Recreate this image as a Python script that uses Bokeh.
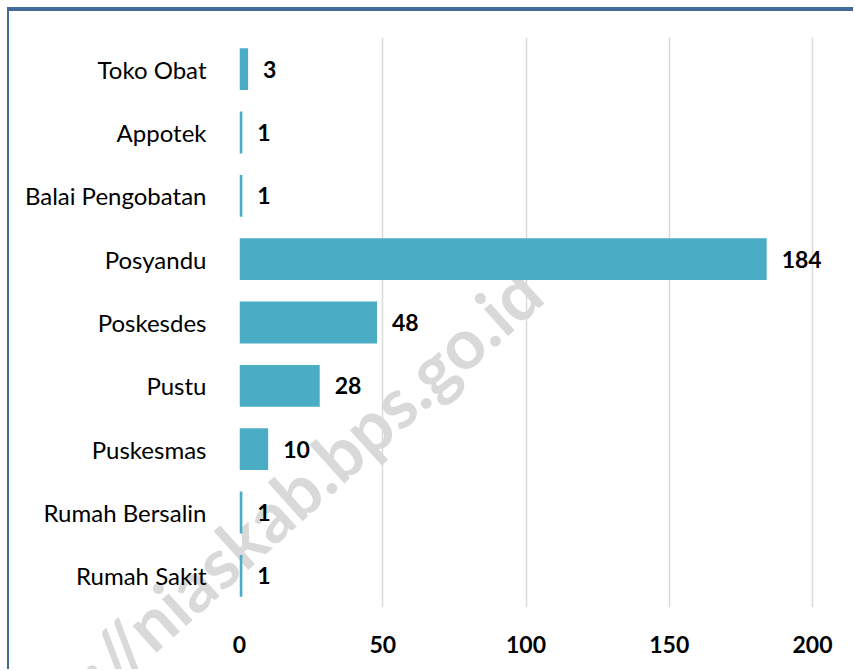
from bokeh.plotting import figure
from bokeh.models import ColumnDataSource, FactorRange, Range1d, FixedTicker
from bokeh.embed import file_html
from bokeh.resources import INLINE
from bokeh.core.properties import value

# Data
categories = ["Toko Obat", "Appotek", "Balai Pengobatan", "Posyandu", "Poskesdes",
              "Pustu", "Puskesmas", "Rumah Bersalin", "Rumah Sakit"]
counts = [3, 1, 1, 184, 48, 28, 10, 1, 1]
x_ticks = [0, 50, 100, 150, 200]
watermark = "https://niaskab.bps.go.id"

W, H = 846, 660
border = {"border-left": "2px solid #41699A", "border-top": "2px solid #41699A",
          "margin-left": "7px"}

# background figure carrying the watermark (frame covers whole canvas)
bg = figure(width=W, height=H, output_backend="svg", toolbar_location=None,
            x_range=Range1d(0, W), y_range=Range1d(0, H),
            x_axis_location=None, y_axis_location=None,
            min_border=0, min_border_left=0, min_border_right=0,
            min_border_top=0, min_border_bottom=0,
            styles=dict(border, **{"margin-top": "9px"}))
bg.outline_line_color = None
bg.grid.visible = False
bg.background_fill_color = "white"
bg.border_fill_color = "white"
bg.text(x=[520], y=[H - 269], text=[watermark], angle=0.733, text_align="right",
        text_baseline="middle", text_font=value("Lato"), text_font_style="bold",
        text_font_size="70px", text_color="#d9d9d9")

src = ColumnDataSource(dict(cat=categories, val=counts, lbl=[str(v) for v in counts]))

p = figure(width=W, height=H, output_backend="svg", toolbar_location=None,
           y_range=FactorRange(factors=categories[::-1], range_padding=0),
           x_range=Range1d(0, 215),
           min_border_left=230, min_border_right=0, min_border_top=28, min_border_bottom=62,
           styles=dict(border, **{"margin-top": f"-{H + 2}px"}))
p.outline_line_color = None
p.background_fill_color = None
p.background_fill_alpha = 0
p.border_fill_color = None
p.border_fill_alpha = 0

p.hbar(y="cat", right="val", left=0, height=0.66, source=src, color="#4BACC6",
       line_color=None)
p.text(x="val", y="cat", text="lbl", source=src, x_offset=15, y_offset=0,
       text_baseline="middle", text_align="left", text_font=value("Lato"),
       text_font_style="bold", text_font_size="23px", text_color="black")

# grid
p.ygrid.grid_line_color = None
p.xgrid.ticker = FixedTicker(ticks=x_ticks)
p.xgrid.grid_line_color = "#d9d9d9"
p.xgrid.grid_line_width = 1.5

p.xaxis.ticker = FixedTicker(ticks=x_ticks)
p.xaxis.axis_line_color = None
p.xaxis.major_tick_line_color = None
p.xaxis.minor_tick_line_color = None
p.xaxis.major_label_standoff = 22
p.xaxis.major_label_text_font = "Lato"
p.xaxis.major_label_text_font_style = "bold"
p.xaxis.major_label_text_font_size = "23px"
p.xaxis.major_label_text_color = "black"

p.yaxis.axis_line_color = None
p.yaxis.major_tick_line_color = None
p.yaxis.minor_tick_line_color = None
p.yaxis.major_label_standoff = 27
p.yaxis.major_label_text_font = "Lato"
p.yaxis.major_label_text_font_style = "normal"
p.yaxis.major_label_text_font_size = "24px"
p.yaxis.major_label_text_color = "black"

open("out.html", "w").write(file_html([bg, p], INLINE))
